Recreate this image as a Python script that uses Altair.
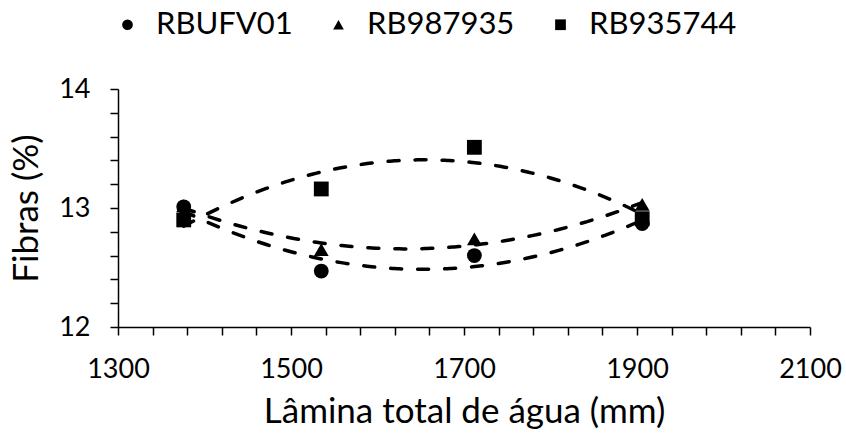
import altair as alt
import pandas as pd

# Series (cultivars) and their measurements
series_names = ["RBUFV01", "RB987935", "RB935744"]
lamina_mm = [1376, 1535, 1712, 1906]
fibras_rbufv01 = [13.01, 12.47, 12.60, 12.87]
fibras_rb987935 = [13.02, 12.65, 12.74, 13.03]
fibras_rb935744 = [12.90, 13.16, 13.51, 12.91]

# Axis ticks (labels only on the major ones)
x_ticks = [1300, 1340, 1380, 1420, 1460, 1500, 1540, 1580, 1620, 1660, 1700,
           1740, 1780, 1820, 1860, 1900, 1940, 1980, 2020, 2060, 2100]
y_ticks = [12.0, 12.2, 12.4, 12.6, 12.8, 13.0, 13.2, 13.4, 13.6, 13.8, 14.0]

rows = []
for name, values in zip(series_names, [fibras_rbufv01, fibras_rb987935, fibras_rb935744]):
    for x, y in zip(lamina_mm, values):
        rows.append({"serie": name, "lamina": x, "fibras": y})
df = pd.DataFrame(rows)

FONT = "Lato"

x_enc = alt.X(
    "lamina:Q",
    scale=alt.Scale(domain=[1300, 2100], nice=False, zero=False),
    axis=alt.Axis(
        title="Lâmina total de água (mm)",
        values=x_ticks,
        labelExpr="datum.value % 200 == 100 ? format(datum.value, 'd') : ''",
        labelOverlap=False,
        labelBound=False,
        labelFlush=False,
    ),
)
y_enc = alt.Y(
    "fibras:Q",
    scale=alt.Scale(domain=[12, 14], nice=False, zero=False),
    axis=alt.Axis(
        title="Fibras (%)",
        values=y_ticks,
        labelExpr="abs(datum.value - round(datum.value)) < 0.01 ? format(datum.value, 'd') : ''",
        labelOverlap=False,
        labelBound=False,
        labelFlush=False,
    ),
)

# Quadratic trend line per cultivar
trend = alt.Chart(df).transform_regression(
    "lamina", "fibras", groupby=["serie"], method="poly", order=2
).mark_line(
    color="black", strokeWidth=3.5, strokeDash=[11, 16], strokeCap="round"
).encode(
    x=x_enc,
    y=y_enc,
    detail="serie:N",
)

points = alt.Chart(df).mark_point(
    filled=True, color="black", opacity=1, size=220
).encode(
    x=x_enc,
    y=y_enc,
    shape=alt.Shape(
        "serie:N",
        scale=alt.Scale(domain=series_names, range=["circle", "triangle-up", "square"]),
        legend=alt.Legend(title=None),
    ),
)

chart = alt.layer(trend, points).properties(
    width=692,
    height=238,
    autosize=alt.AutoSizeParams(type="none"),
    padding={"left": 118, "top": 89, "right": 36, "bottom": 110},
).configure_view(
    stroke=None
).configure_axis(
    grid=False,
    domainColor="black",
    domainWidth=1.5,
    tickColor="black",
    tickWidth=1.5,
    tickSize=8,
    labelFont=FONT,
    labelFontSize=27,
    labelColor="black",
    titleFont=FONT,
    titleFontSize=35,
    titleFontWeight="normal",
    titleColor="black",
).configure_axisX(
    labelPadding=21,
    titlePadding=12,
).configure_axisY(
    labelPadding=20,
    titlePadding=14,
).configure_legend(
    orient="none",
    legendX=-6,
    legendY=-80,
    direction="horizontal",
    padding=0,
    labelFont=FONT,
    labelFontSize=31,
    labelColor="black",
    labelOffset=13,
    columnPadding=30,
    symbolSize=115,
    symbolFillColor="black",
    symbolStrokeColor="black",
    symbolStrokeWidth=0,
)

chart.save("out.html", embed_options={"renderer": "svg", "actions": False})
